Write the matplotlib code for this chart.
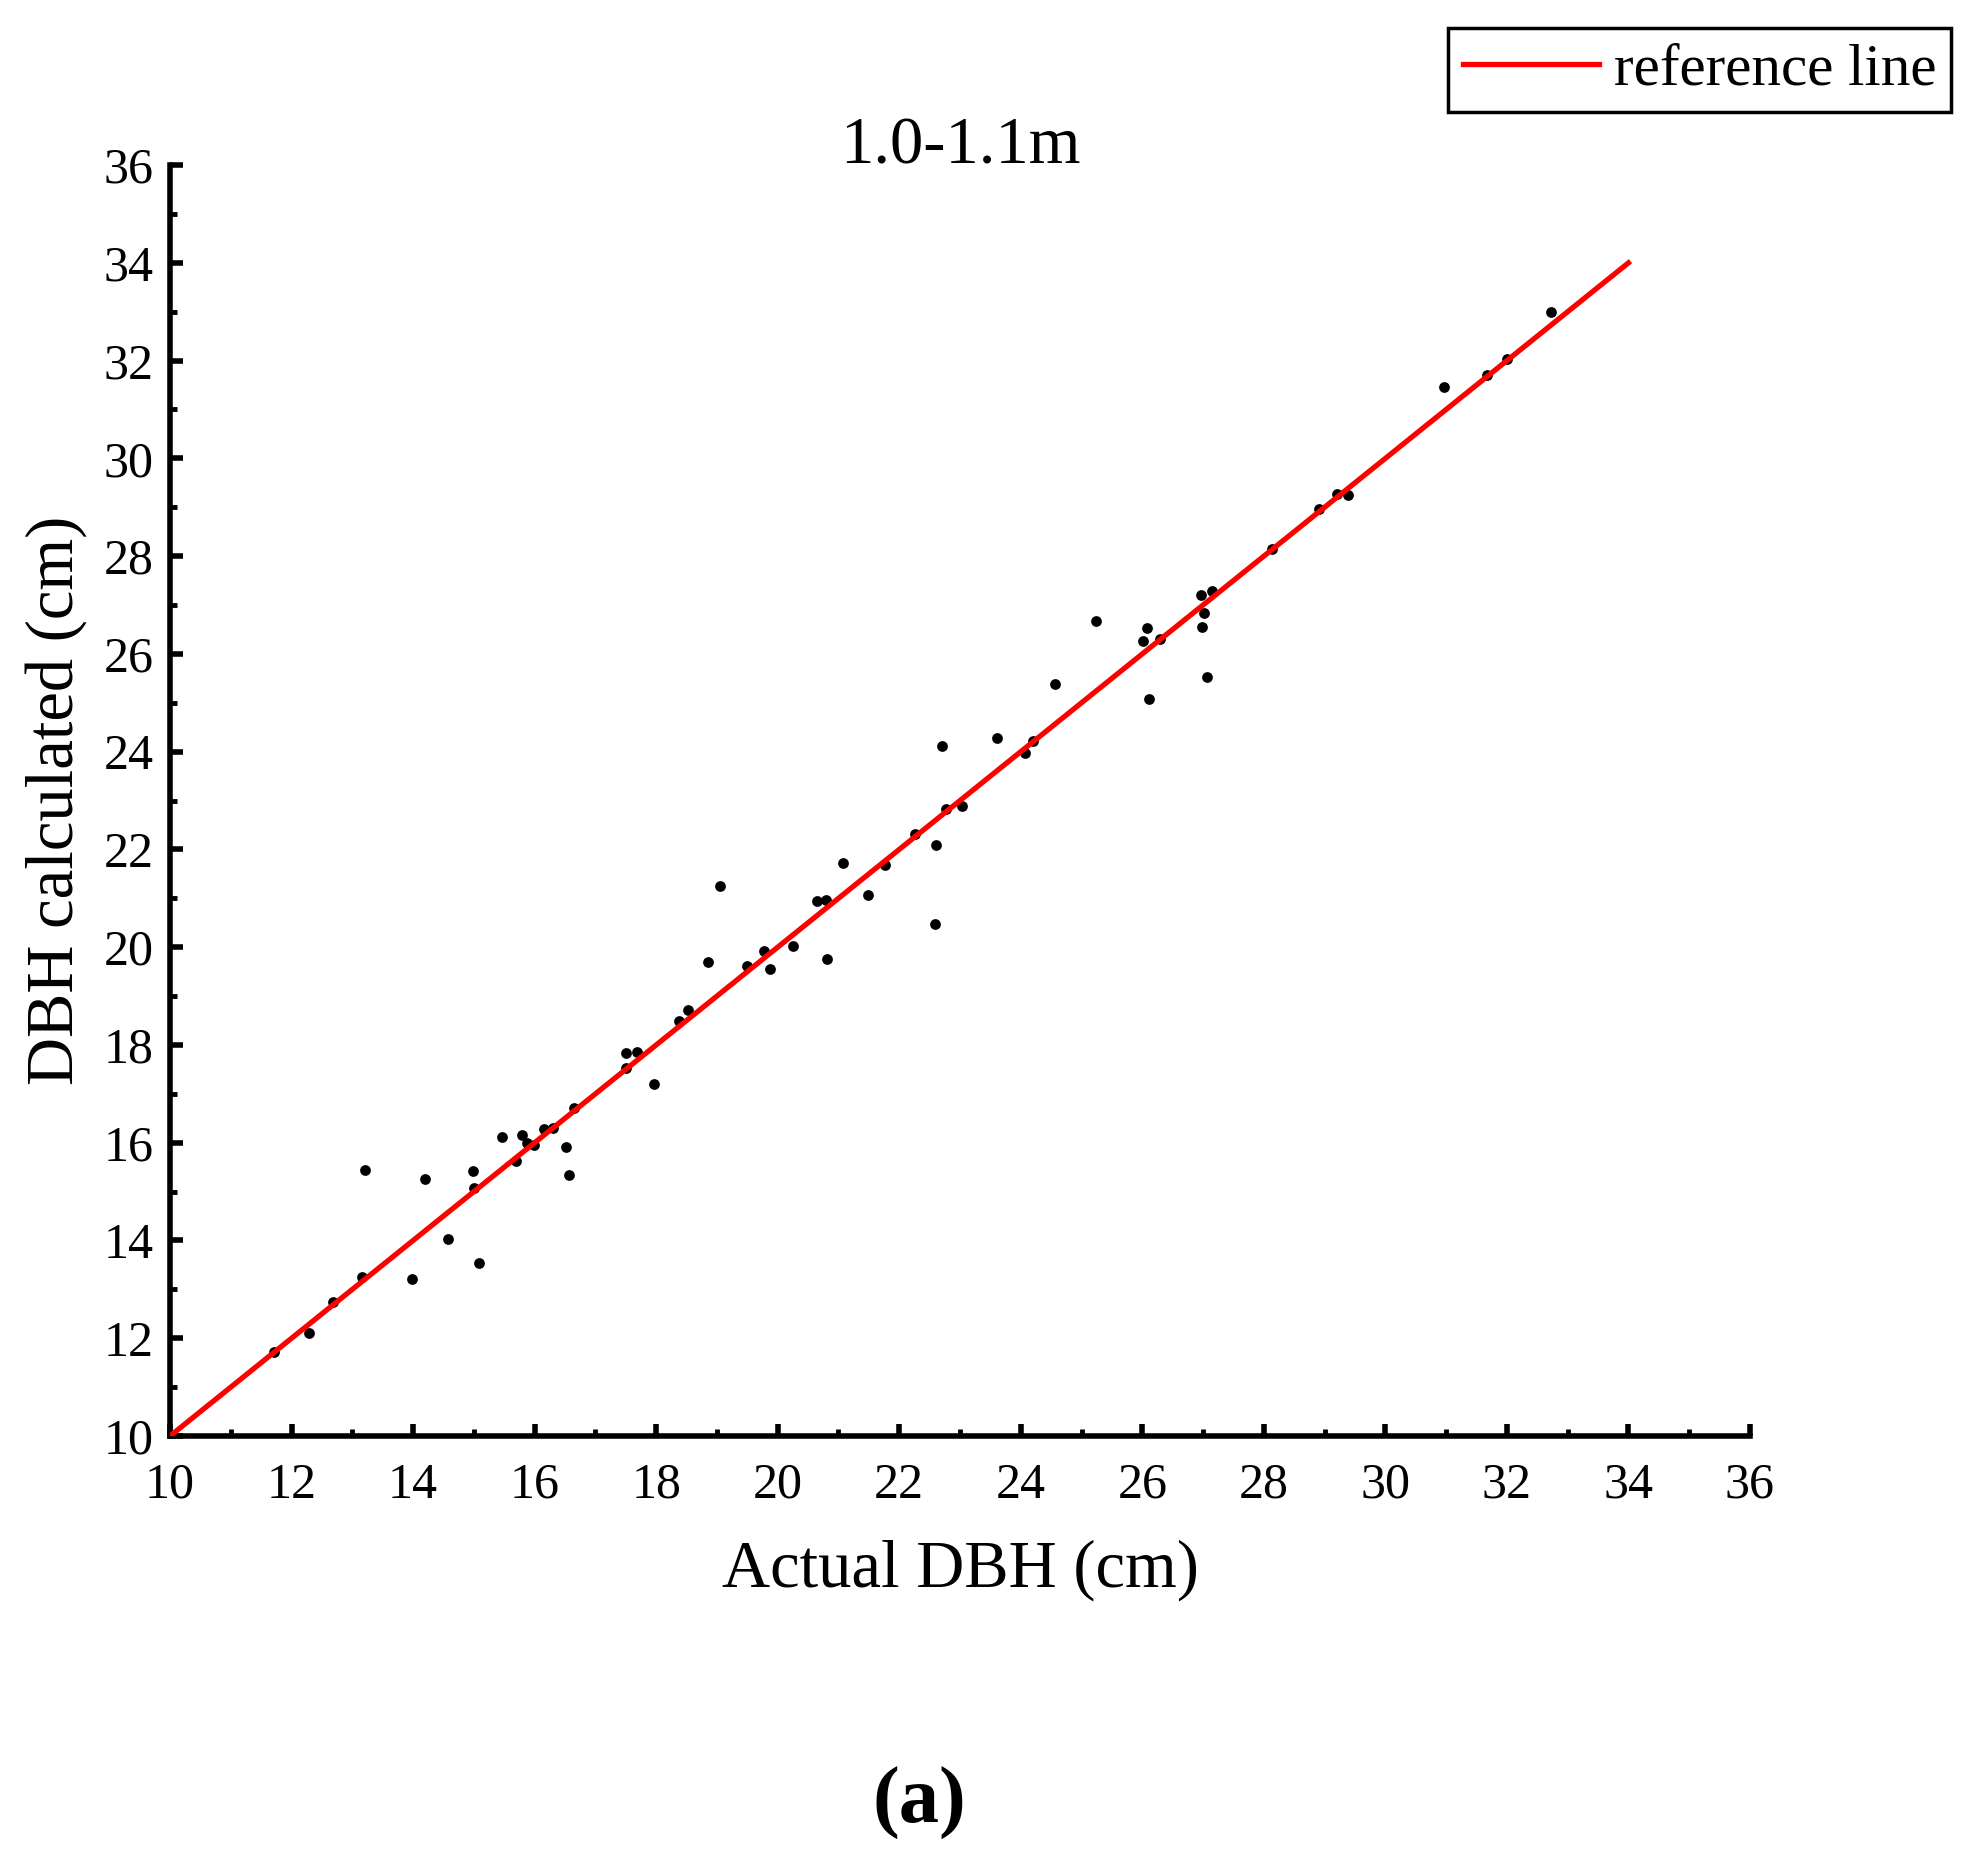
import matplotlib
matplotlib.use("Agg")
import matplotlib.pyplot as plt
from matplotlib.ticker import MultipleLocator

plt.rcParams['font.family'] = ['Liberation Serif', 'DejaVu Serif']

# actual vs calculated DBH (cm)
actual_dbh = [11.71, 12.29, 12.69, 13.16, 13.21, 13.99, 14.19, 14.57, 14.99, 15.01,
              15.09, 15.47, 15.69, 15.79, 15.88, 15.99, 16.16, 16.30, 16.52, 16.57,
              16.65, 17.96, 17.51, 17.68, 17.51, 18.38, 18.53, 18.86, 19.05, 19.49,
              19.78, 19.88, 20.26, 20.64, 20.80, 20.81, 21.07, 21.49, 21.77, 22.26,
              22.61, 22.59, 22.77, 23.04, 22.70, 23.61, 24.07, 24.20, 24.57, 25.24,
              26.02, 26.07, 26.29, 26.11, 26.97, 27.15, 27.01, 26.99, 27.07, 28.13,
              28.91, 29.20, 29.39, 30.96, 31.68, 32.00, 32.73]
calc_dbh = [11.72, 12.10, 12.74, 13.25, 15.45, 13.21, 15.25, 14.03, 15.42, 15.08,
            13.53, 16.12, 15.63, 16.16, 16.00, 15.96, 16.29, 16.31, 15.91, 15.34,
            16.72, 17.20, 17.84, 17.86, 17.52, 18.50, 18.72, 19.69, 21.25, 19.62,
            19.92, 19.55, 20.02, 20.95, 20.96, 19.76, 21.72, 21.06, 21.69, 22.32,
            22.09, 20.48, 22.82, 22.89, 24.12, 24.27, 23.97, 24.22, 25.38, 26.67,
            26.26, 26.54, 26.31, 25.08, 27.20, 27.29, 26.84, 26.56, 25.53, 28.15,
            28.96, 29.27, 29.26, 31.47, 31.70, 32.04, 33.00]
ref_line = [10, 34]

fig = plt.figure(figsize=(19.7, 18.57), dpi=100)
ax = fig.add_axes([0.0863, 0.2267, 0.8020, 0.6844])

ax.scatter(actual_dbh, calc_dbh, s=60, color='black', zorder=3, linewidths=0)
ax.plot(ref_line, ref_line, color='red', lw=3.8, label='reference line', zorder=4)

ax.set_xlim(10, 36)
ax.set_ylim(10, 36)
ax.xaxis.set_major_locator(MultipleLocator(2))
ax.xaxis.set_minor_locator(MultipleLocator(1))
ax.yaxis.set_major_locator(MultipleLocator(2))
ax.yaxis.set_minor_locator(MultipleLocator(1))

for s in ['top', 'right']:
    ax.spines[s].set_visible(False)
for s in ['left', 'bottom']:
    ax.spines[s].set_linewidth(4)

ax.tick_params(which='major', direction='in', length=9, width=4, labelsize=36, pad=12)
ax.tick_params(which='minor', direction='in', length=5, width=3.5)
ax.tick_params(axis='x', which='major', pad=19)

ax.set_xlabel('Actual DBH (cm)', fontsize=48, labelpad=22)
ax.set_ylabel('DBH calculated (cm)', fontsize=48, labelpad=12)
ax.set_title('1.0-1.1m', fontsize=48, y=1.0, pad=1)

leg = fig.legend(loc='upper right', bbox_to_anchor=(0.9905, 0.9849), fontsize=42.6,
                 frameon=True, fancybox=False, edgecolor='black', framealpha=1,
                 handlelength=2.3, handletextpad=0.25, borderpad=0.25, borderaxespad=0)
leg.get_frame().set_linewidth(2.5)

fig.text(0.4665, 0.029, '(a)', fontsize=58, fontweight='bold', ha='center', va='center')

fig.savefig('out.png', dpi=100)
